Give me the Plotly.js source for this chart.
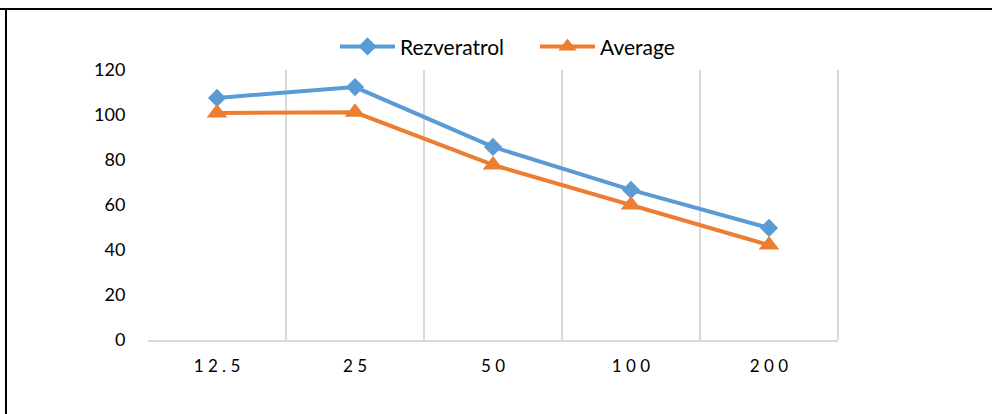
<!DOCTYPE html>
<html>
<head>
<meta charset="utf-8">
<script src="https://cdn.plot.ly/plotly-3.0.1.min.js"></script>
<style>html,body{margin:0;padding:0;background:#fff;}#chart{width:992px;height:414px;}</style>
</head>
<body>
<div id="chart"></div>
<script>
const categories = ["12.5", "25", "50", "100", "200"];
const rezveratrol = [107.6, 112.4, 85.8, 66.7, 49.8];
const average = [100.9, 101.2, 77.8, 60.0, 42.2];
const yTicks = [0, 20, 40, 60, 80, 100, 120];

const spaced = categories.map(c => c.split("").join(" "));

const traces = [
  {
    x: categories, y: rezveratrol, name: "Rezveratrol", type: "scatter", mode: "lines+markers",
    line: {color: "#5B9BD5", width: 4},
    marker: {symbol: "diamond", size: 14, color: "#5B9BD5"}
  },
  {
    x: categories, y: average, name: "Average", type: "scatter", mode: "lines+markers",
    line: {color: "#ED7D31", width: 4},
    marker: {symbol: "triangle-up", size: 18, color: "#ED7D31"}
  }
];

const layout = {
  width: 992, height: 414,
  margin: {l: 148, r: 154, t: 70, b: 74},
  paper_bgcolor: "#fff", plot_bgcolor: "#fff",
  font: {family: "Lato, 'Open Sans', sans-serif", size: 17, color: "#000"},
  showlegend: true,
  legend: {orientation: "h", x: (335 - 148) / 690, xanchor: "left", y: 1.01, yanchor: "bottom",
           font: {size: 21}, itemwidth: 55, entrywidth: 130, entrywidthmode: "pixels", tracegroupgap: 0},
  xaxis: {
    type: "category", tickson: "boundaries", showgrid: true, gridcolor: "#d9d9d9", gridwidth: 2,
    tickvals: categories, ticktext: spaced,
    showline: true, linecolor: "#d9d9d9", linewidth: 2,
    ticks: "", ticklabelstandoff: 10,
    tickfont: {size: 17}, zeroline: false, range: [-0.5, 4.5], fixedrange: true
  },
  yaxis: {
    range: [0, 120], tickvals: yTicks, showgrid: false, zeroline: false, showline: false,
    ticks: "outside", ticklen: 18, tickcolor: "rgba(0,0,0,0)", tickfont: {size: 18}
  },
  shapes: [
    {type: "line", xref: "paper", yref: "paper", x0: 1, x1: 1, y0: 0, y1: 1, line: {color: "#d9d9d9", width: 2}},
    {type: "line", xref: "paper", yref: "paper", x0: -148/690, x1: 844/690, y0: 1 + 61/270, y1: 1 + 61/270, line: {color: "#000", width: 2}},
    {type: "line", xref: "paper", yref: "paper", x0: -142/690, x1: -142/690, y0: 1 + 61/270, y1: -80/270, line: {color: "#000", width: 2}}
  ]
};

Plotly.newPlot("chart", traces, layout, {displayModeBar: false, staticPlot: true});
</script>
</body>
</html>
